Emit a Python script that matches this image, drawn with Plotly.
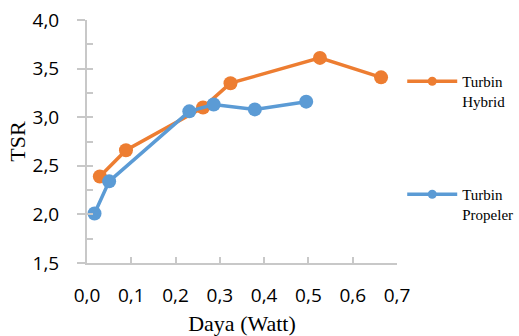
import plotly.graph_objects as go

hybrid_x = [0.029, 0.088, 0.262, 0.324, 0.526, 0.664]
hybrid_y = [2.39, 2.66, 3.10, 3.35, 3.61, 3.41]
prop_x = [0.017, 0.050, 0.231, 0.286, 0.379, 0.495]
prop_y = [2.01, 2.34, 3.06, 3.13, 3.08, 3.16]
series_names = ["Turbin<br>Hybrid", "Turbin<br>Propeler"]
orange = "#ED7D31"
blue = "#5B9BD5"
axis_gray = "#c8c8c8"

fig = go.Figure()
fig.add_trace(go.Scatter(x=hybrid_x, y=hybrid_y, mode="lines+markers",
                         line=dict(color=orange, width=3.5),
                         marker=dict(color=orange, size=14), showlegend=False))
fig.add_trace(go.Scatter(x=prop_x, y=prop_y, mode="lines+markers",
                         line=dict(color=blue, width=3.5),
                         marker=dict(color=blue, size=14), showlegend=False))
# legend entries
fig.add_trace(go.Scatter(x=[None], y=[None], mode="lines+markers", name=series_names[0],
                         line=dict(color=orange, width=3.5), marker=dict(color=orange, size=9),
                         legend="legend", yaxis="y2"))
fig.add_trace(go.Scatter(x=[None], y=[None], mode="lines+markers", name=series_names[1],
                         line=dict(color=blue, width=3.5), marker=dict(color=blue, size=9),
                         legend="legend2", yaxis="y2"))

serif = "Liberation Serif"
tick_font = dict(family="Open Sans", size=19, color="#000000")
title_font = dict(family=serif, size=22, color="#000000")
leg_font = dict(family=serif, size=15, color="#000000")

fig.update_layout(
    width=519, height=336,
    font=dict(family=serif),
    margin=dict(l=87, r=122, t=20, b=73, autoexpand=False),
    paper_bgcolor="white", plot_bgcolor="white",
    xaxis=dict(range=[0, 0.7], dtick=0.1, tick0=0, tickformat=".1f", automargin=False,
               showgrid=False, zeroline=False, showline=True, linecolor=axis_gray, linewidth=2,
               ticks="inside", ticklen=6, tickwidth=2, tickcolor=axis_gray,
               tickfont=tick_font, ticklabelstandoff=14,
               title=dict(text="Daya (Watt)", font=title_font, standoff=10)),
    yaxis=dict(range=[1.5, 4.0], dtick=0.5, tick0=1.5, tickformat=".1f", automargin=False,
               showgrid=False, zeroline=False, showline=True, linecolor=axis_gray, linewidth=2,
               ticks="outside", ticklen=8, tickwidth=2, tickcolor=axis_gray,
               tickfont=tick_font, ticklabelstandoff=14,
               title=dict(text="TSR", font=title_font, standoff=1)),
    yaxis2=dict(range=[1.5, 4.0], dtick=0.25, tick0=1.5, overlaying="y", side="left",
                showgrid=False, zeroline=False, showline=False, showticklabels=False,
                ticks="inside", ticklen=6, tickwidth=2, tickcolor=axis_gray),
    separators=", ",
    legend=dict(xref="container", yref="container", x=0.775, y=1 - 65/336,
                xanchor="left", yanchor="top", font=leg_font, valign="top",
                bgcolor="rgba(0,0,0,0)", itemwidth=50),
    legend2=dict(xref="container", yref="container", x=0.775, y=1 - 178/336,
                 xanchor="left", yanchor="top", font=leg_font, valign="top",
                 bgcolor="rgba(0,0,0,0)", itemwidth=50),
)

fig.write_html("out.html")
